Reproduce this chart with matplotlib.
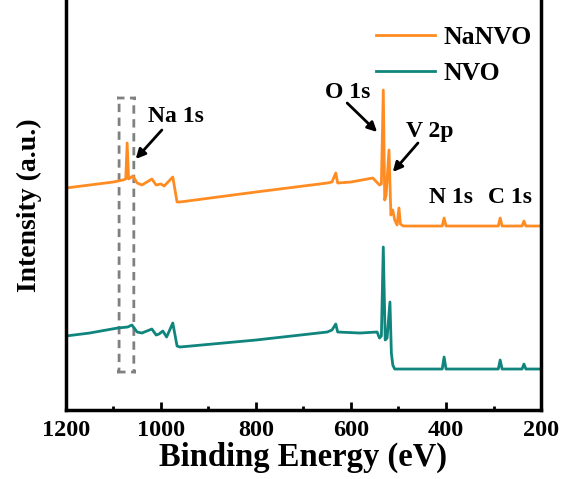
import numpy as np
import matplotlib.pyplot as plt
from matplotlib.patches import FancyBboxPatch
from matplotlib.ticker import MultipleLocator

plt.rcParams['font.family'] = ['Liberation Serif', 'DejaVu Serif']
plt.rcParams['font.weight'] = 'bold'

# survey spectra (binding energy in eV, intensity in a.u.), traced peak by peak
be_nanvo = [1200, 1150, 1100, 1080, 1074, 1071, 1068, 1059, 1050, 1040, 1019, 1010,
            1000, 993, 975, 966, 960, 800, 650, 640, 632, 628, 600, 554, 540,
            536, 532, 529, 526, 520, 516, 512, 508, 503, 499, 496, 490, 408,
            404, 400, 290, 286, 282, 240, 236, 232, 200]
i_nanvo = [222, 225, 228, 230, 231, 267, 231, 234, 227, 225, 231, 225,
           226, 224, 233, 208, 208, 218, 227, 228, 237, 227, 228, 232, 225,
           226, 320, 210, 215, 260, 195, 200, 190, 185, 202, 186, 184, 184,
           192, 184, 184, 192, 184, 184, 189, 184, 184]

be_nvo = [1200, 1150, 1091, 1070, 1061, 1050, 1040, 1019, 1010, 1004, 996, 988,
          975, 966, 960, 800, 650, 640, 632, 628, 581, 545, 540, 536, 532,
          528, 524, 518, 515, 512, 508, 408, 404, 400, 290, 286, 282, 240,
          236, 232, 200]
i_nvo = [74, 77, 82, 83, 85, 78, 77, 81, 75, 76, 79, 73,
         87, 64, 63, 70, 78, 80, 86, 78, 77, 78, 72, 74, 163,
         70, 72, 108, 57, 45, 41, 41, 53, 41, 41, 50, 41, 41,
         46, 41, 41]

series = ['NaNVO', 'NVO']
colors = ['#FF8C22', '#0F857D']

fig = plt.figure(figsize=(5.63, 4.79), dpi=100)
ax = fig.add_axes([0.117, 0.144, 0.844, 0.856])

ax.plot(be_nanvo, i_nanvo, color=colors[0], lw=2, label=series[0])
ax.plot(be_nvo, i_nvo, color=colors[1], lw=2, label=series[1])

# dashed box around the Na 1s region
box = FancyBboxPatch((1088, 38), 1057 - 1088, 312 - 38,
                     boxstyle='round,pad=0,rounding_size=4',
                     fill=False, ls=(0, (3, 2)), lw=2, ec='#808080')
ax.add_patch(box)

ax.set_xlim(1200, 200)
ax.set_ylim(0, 410)
ax.xaxis.set_major_locator(MultipleLocator(200))
ax.xaxis.set_minor_locator(MultipleLocator(100))
ax.tick_params(axis='x', which='major', direction='in', length=6, width=2,
               labelsize=17.5, pad=7)
ax.tick_params(axis='x', which='minor', direction='in', length=3, width=2)
ax.set_yticks([])
for s in ['left', 'right', 'bottom']:
    ax.spines[s].set_linewidth(2.5)
ax.spines['top'].set_visible(False)

ax.set_xlabel('Binding Energy (eV)', fontsize=23.5, fontweight='bold', labelpad=1)
ax.set_ylabel('Intensity (a.u.)', fontsize=20, fontweight='bold', labelpad=17)

# peak labels and arrows
arrow = dict(arrowstyle='-|>', color='black', lw=2, mutation_scale=14,
             shrinkA=0, shrinkB=0)
ax.annotate('', xy=(1053, 251), xytext=(998, 280), arrowprops=arrow)
ax.annotate('', xy=(545, 278), xytext=(608, 307), arrowprops=arrow)
ax.annotate('', xy=(512, 238), xytext=(459, 267), arrowprops=arrow)
labels = ['Na 1s', 'O 1s', 'V 2p', 'N 1s', 'C 1s']
label_x = [968, 606, 434, 389, 265]
label_y = [294, 318, 279, 213, 213]
for t, lx, ly in zip(labels, label_x, label_y):
    ax.text(lx, ly, t, fontsize=17, fontweight='bold', ha='center', va='center')

ax.legend(loc='upper right', bbox_to_anchor=(1.012, 0.975), frameon=False,
          fontsize=18.5, handlelength=2.3, handletextpad=0.3, labelspacing=0.5,
          borderaxespad=0.2)

fig.savefig('out.png', dpi=100)
